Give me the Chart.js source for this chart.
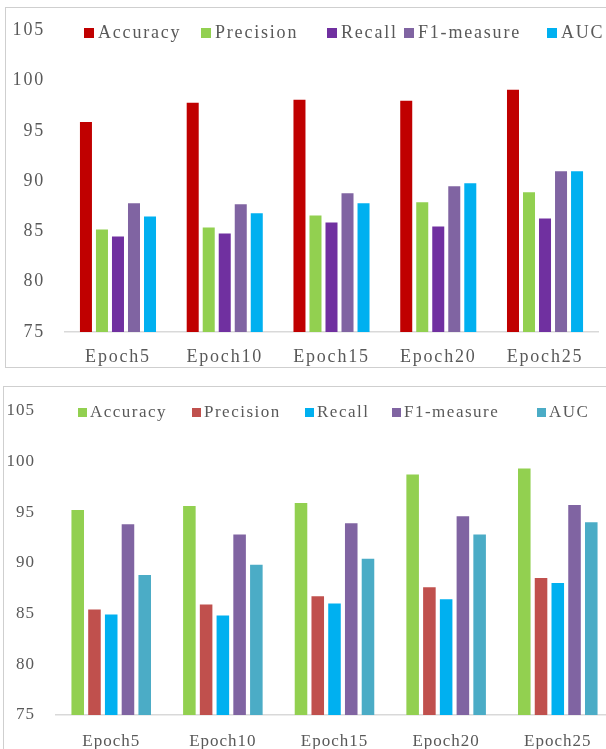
<!DOCTYPE html>
<html>
<head>
<meta charset="utf-8">
<script src="https://cdn.jsdelivr.net/npm/chart.js@4.4.1/dist/chart.umd.min.js"></script>
<style>
  html, body { margin: 0; padding: 0; background: #fff; overflow: hidden; width: 606px; height: 749px; }
  .frame { position: absolute; box-sizing: border-box; border-top: 1.5px solid #cfcfcf; border-left: 1.5px solid #cfcfcf; }
  #f1 { left: 5px; top: 7px; width: 601px; height: 361px; border-bottom: 1.5px solid #cfcfcf; }
  #f2 { left: 3px; top: 386px; width: 603px; height: 363px; }
  canvas { position: absolute; }
  #c1 { left: 0; top: 0; }
  #c2 { left: 0; top: 380px; }
</style>
</head>
<body>
<div class="frame" id="f1"></div>
<div class="frame" id="f2"></div>
<canvas id="c1" width="606" height="370"></canvas>
<canvas id="c2" width="620" height="369"></canvas>
<script>
// Shared categories and axis ticks
const epochs = ['Epoch5', 'Epoch10', 'Epoch15', 'Epoch20', 'Epoch25'];
const metricNames = ['Accuracy', 'Precision', 'Recall', 'F1-measure', 'AUC'];
const yTicks = [75, 80, 85, 90, 95, 100, 105];

// Upper panel scores (%)
const upperAccuracy  = [95.9, 97.8, 98.1, 98.0, 99.1];
const upperPrecision = [85.2, 85.4, 86.6, 87.9, 88.9];
const upperRecall    = [84.5, 84.8, 85.9, 85.5, 86.3];
const upperF1        = [87.8, 87.7, 88.8, 89.5, 91.0];
const upperAUC       = [86.5, 86.8, 87.8, 89.8, 91.0];

// Lower panel scores (%)
const lowerAccuracy  = [95.2, 95.6, 95.9, 98.7, 99.3];
const lowerPrecision = [85.4, 85.9, 86.7, 87.6, 88.5];
const lowerRecall    = [84.9, 84.8, 86.0, 86.4, 88.0];
const lowerF1        = [93.8, 92.8, 93.9, 94.6, 95.7];
const lowerAUC       = [88.8, 89.8, 90.4, 92.8, 94.0];

const upperColors = ['#C00000', '#92D050', '#7030A0', '#8064A2', '#00B0F0'];
const lowerColors = ['#92D050', '#C0504D', '#00B0F0', '#8064A2', '#4BACC6'];

const TEXT = '#595959';
const SERIF = '"Liberation Serif", "Times New Roman", serif';

// Widened lettering for all canvas text of a chart
const spacingPlugin = {
  id: 'letterSpacing',
  beforeUpdate(chart, args, opts) { chart.ctx.letterSpacing = opts.value; },
  beforeLayout(chart, args, opts) { chart.ctx.letterSpacing = opts.value; },
  beforeDraw(chart, args, opts) { chart.ctx.letterSpacing = opts.value; }
};

// Square-swatch legend row laid over the top of the plot
const swatchLegend = {
  id: 'swatchLegend',
  afterDraw(chart, args, opts) {
    const ctx = chart.ctx;
    ctx.save();
    ctx.letterSpacing = opts.spacing;
    ctx.font = opts.size + 'px ' + SERIF;
    ctx.textBaseline = 'alphabetic';
    ctx.textAlign = 'left';
    chart.data.datasets.forEach((ds, i) => {
      const x = opts.xs[i];
      ctx.fillStyle = ds.backgroundColor;
      ctx.fillRect(x, opts.boxTop, opts.box, opts.box);
      ctx.fillStyle = TEXT;
      ctx.fillText(ds.label, x + opts.box + opts.gap, opts.baseline);
    });
    ctx.restore();
  }
};

function buildDatasets(series, colors) {
  return series.map((values, i) => ({
    label: metricNames[i],
    data: values,
    backgroundColor: colors[i],
    borderWidth: 0,
    categoryPercentage: 0.75,
    barPercentage: 0.75
  }));
}

function makeChart(id, series, colors, cfg) {
  return new Chart(document.getElementById(id), {
    type: 'bar',
    data: { labels: epochs, datasets: buildDatasets(series, colors) },
    plugins: [spacingPlugin, swatchLegend],
    options: {
      responsive: false,
      devicePixelRatio: 1,
      animation: false,
      events: [],
      layout: { padding: cfg.padding },
      plugins: {
        legend: { display: false },
        tooltip: { enabled: false },
        letterSpacing: { value: cfg.tickSpacing },
        swatchLegend: cfg.legend
      },
      scales: {
        x: {
          grid: { display: false, drawTicks: false },
          border: { display: true, color: '#d9d9d9', width: 1.5 },
          ticks: {
            color: TEXT,
            font: { family: SERIF, size: cfg.tickSize },
            padding: cfg.xPad,
            maxRotation: 0,
            autoSkip: false
          },
          afterFit(s) { s.height = cfg.xHeight; }
        },
        y: {
          min: 75,
          max: 105,
          grid: { display: false, drawTicks: false },
          border: { display: false },
          ticks: {
            color: TEXT,
            font: { family: SERIF, size: cfg.tickSize },
            padding: cfg.yPad
          },
          afterBuildTicks(s) { s.ticks = yTicks.map(v => ({ value: v })); },
          afterFit(s) { s.width = cfg.yWidth; }
        }
      }
    }
  });
}

makeChart('c1',
  [upperAccuracy, upperPrecision, upperRecall, upperF1, upperAUC],
  upperColors,
  {
    padding: { top: 30, right: 7.6, left: 0, bottom: 0 },
    tickSize: 18, tickSpacing: '1.8px',
    xPad: 14, xHeight: 38,
    yPad: 19.6, yWidth: 64.6,
    legend: { xs: [84, 201, 327, 404, 547], boxTop: 28, box: 10, gap: 4, baseline: 38, size: 18, spacing: '1.8px' }
  });

makeChart('c2',
  [lowerAccuracy, lowerPrecision, lowerRecall, lowerF1, lowerAUC],
  lowerColors,
  {
    padding: { top: 21, right: 6.4, left: 0, bottom: 0 },
    tickSize: 17, tickSpacing: '1px',
    xPad: 16, xHeight: 34,
    yPad: 20.4, yWidth: 55.4,
    legend: { xs: [78, 192, 305, 392, 537], boxTop: 28, box: 9, gap: 3, baseline: 37, size: 17, spacing: '1.5px' }
  });
</script>
</body>
</html>
